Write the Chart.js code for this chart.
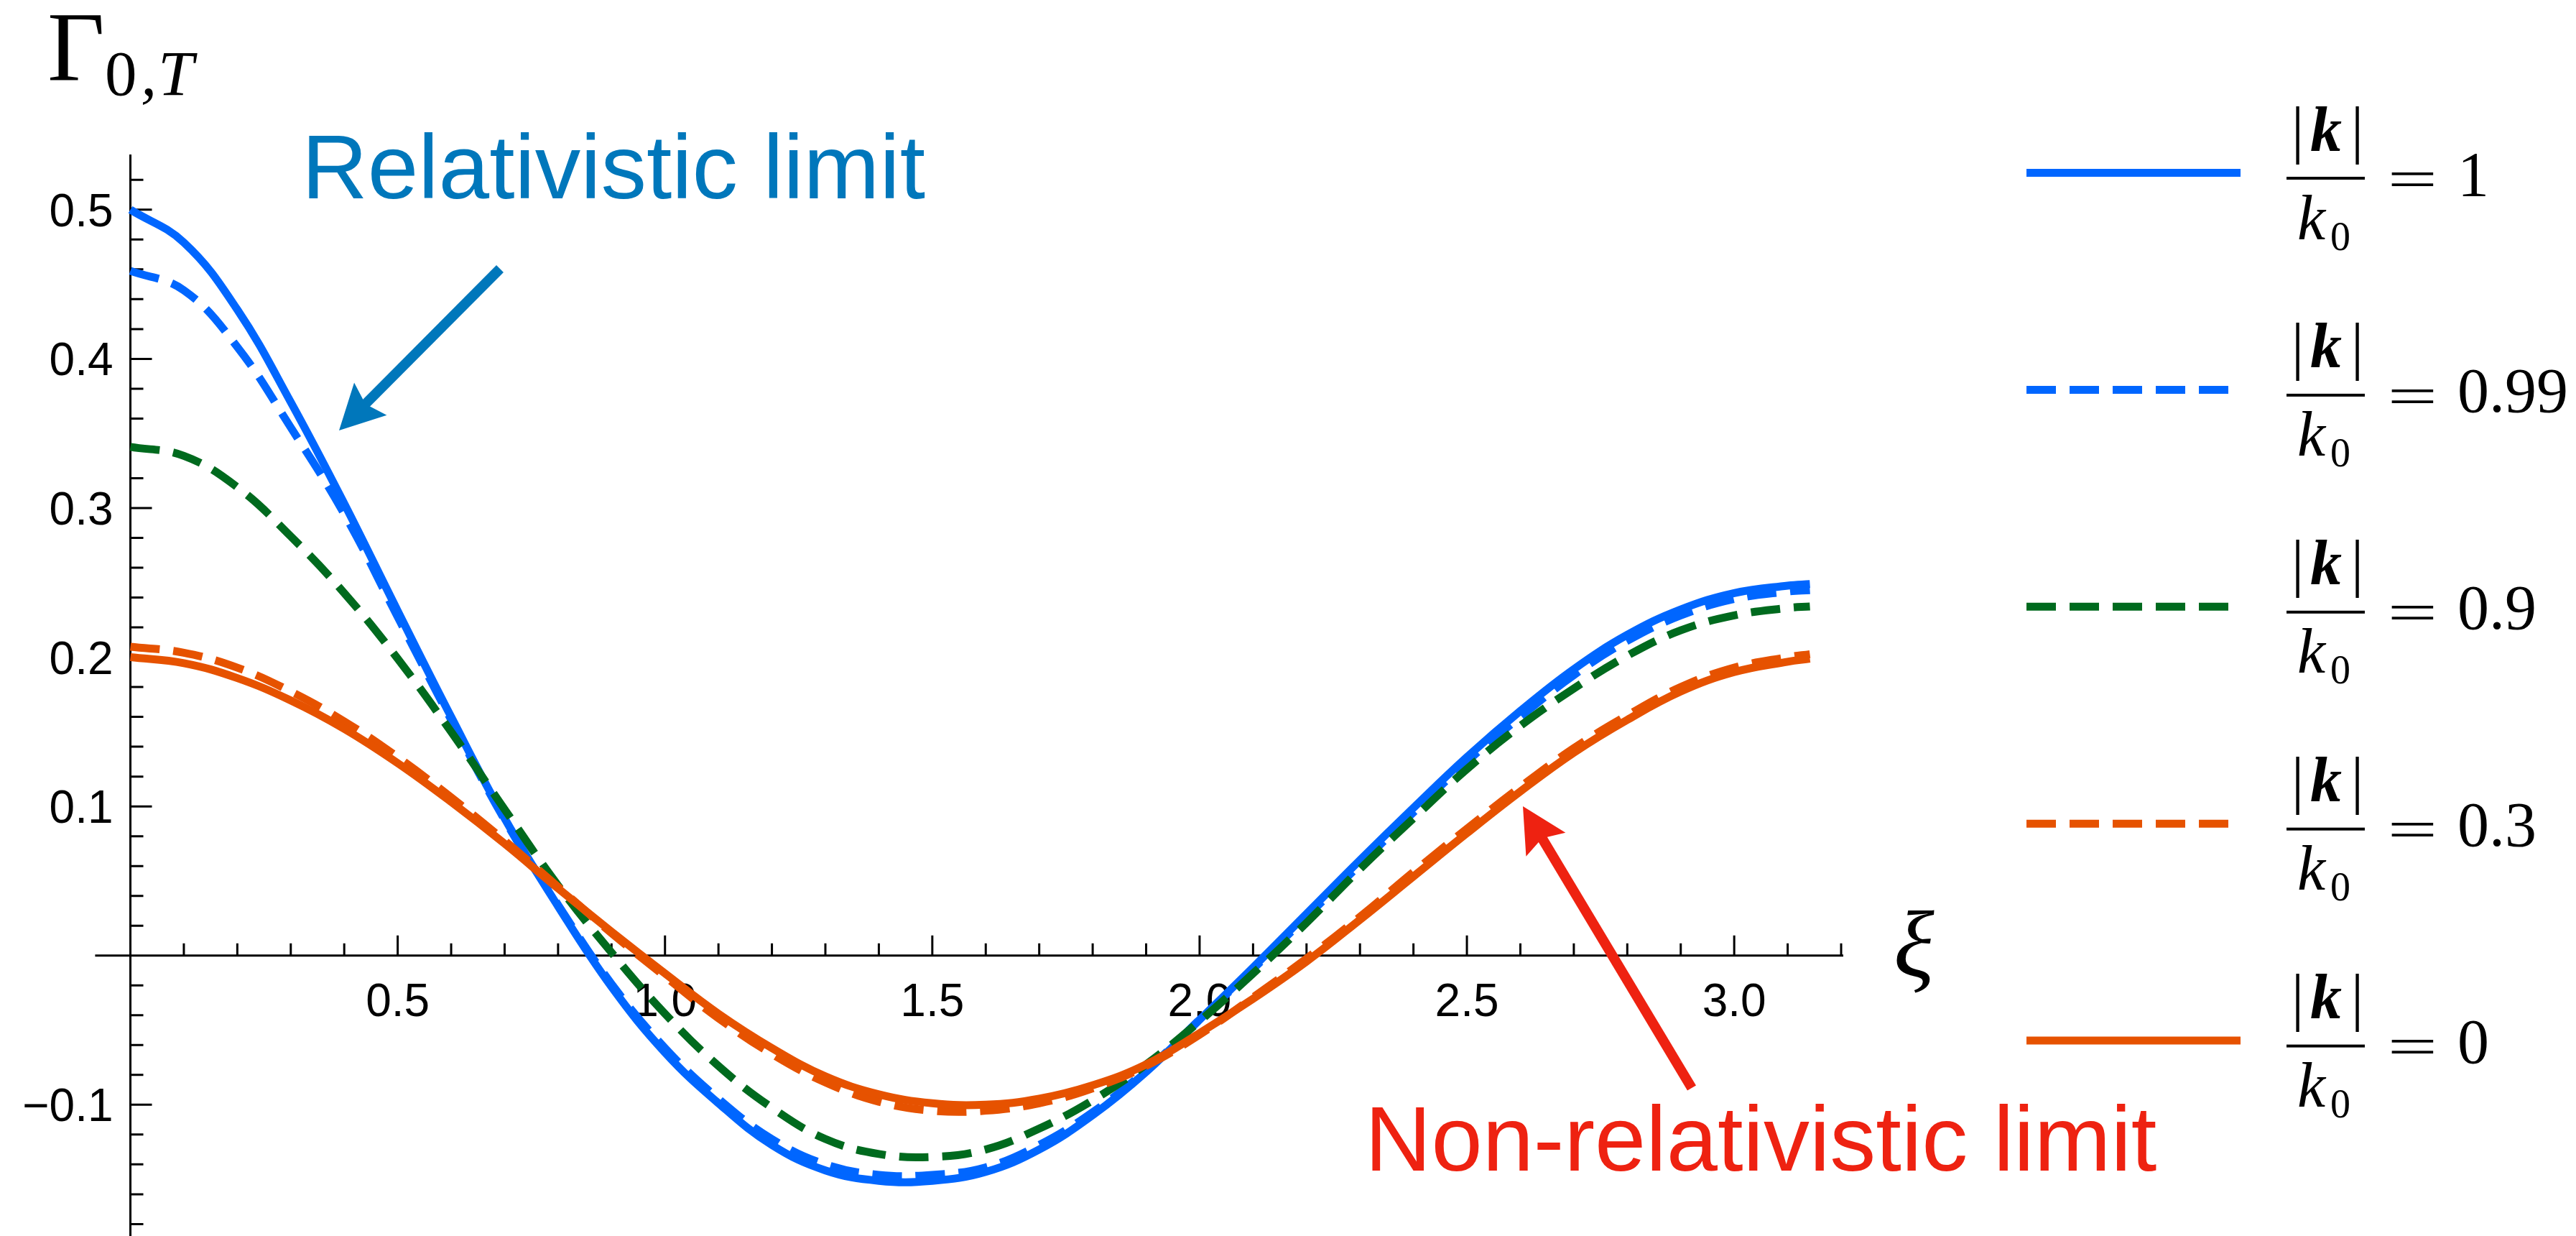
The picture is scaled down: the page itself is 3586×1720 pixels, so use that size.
<!DOCTYPE html>
<html>
<head>
<meta charset="utf-8">
<script src="https://cdn.jsdelivr.net/npm/chart.js@4.4.1/dist/chart.umd.min.js"></script>
<style>
  html, body { margin: 0; padding: 0; background: #fff; }
  #wrap { width: 3586px; height: 1720px; }
</style>
</head>
<body>
<div id="wrap"><canvas id="chart" width="3586" height="1720"></canvas></div>
<script>
const xi = [0, 0.1, 0.2, 0.3, 0.4, 0.5, 0.6, 0.7, 0.8, 0.9, 1.0, 1.1, 1.2, 1.3, 1.4, 1.5,
  1.6, 1.7, 1.8, 1.9, 2.0, 2.1, 2.2, 2.3, 2.4, 2.5, 2.6, 2.7, 2.8, 2.9, 3.0, 3.1, 3.1416];

const ratioLabels = ['1', '0.99', '0.9', '0.3', '0'];

const gammaK1 = [0.500, 0.478, 0.433, 0.371, 0.303, 0.231, 0.160, 0.092, 0.033, -0.021, -0.065,
  -0.099, -0.127, -0.144, -0.151, -0.151, -0.145, -0.130, -0.107, -0.078, -0.043, -0.008,
  0.028, 0.064, 0.099, 0.133, 0.164, 0.192, 0.215, 0.232, 0.243, 0.248, 0.249];
const gammaK099 = [0.459, 0.446, 0.408, 0.354, 0.296, 0.227, 0.158, 0.091, 0.034, -0.019, -0.062,
  -0.096, -0.123, -0.140, -0.147, -0.147, -0.142, -0.127, -0.105, -0.077, -0.043, -0.009,
  0.026, 0.061, 0.096, 0.130, 0.160, 0.188, 0.211, 0.228, 0.239, 0.244, 0.245];
const gammaK09 = [0.341, 0.335, 0.314, 0.281, 0.243, 0.199, 0.150, 0.098, 0.047, 0.002, -0.039,
  -0.074, -0.102, -0.123, -0.133, -0.135, -0.130, -0.116, -0.097, -0.073, -0.044, -0.012,
  0.022, 0.058, 0.092, 0.125, 0.154, 0.179, 0.201, 0.218, 0.228, 0.233, 0.234];
const gammaK03 = [0.207, 0.203, 0.193, 0.177, 0.157, 0.133, 0.106, 0.077, 0.046, 0.015, -0.014,
  -0.042, -0.066, -0.085, -0.098, -0.104, -0.104, -0.099, -0.089, -0.074, -0.053, -0.028,
  -0.002, 0.026, 0.056, 0.085, 0.113, 0.139, 0.161, 0.180, 0.193, 0.200, 0.202];
const gammaK0 = [0.200, 0.196, 0.186, 0.171, 0.152, 0.129, 0.103, 0.075, 0.045, 0.016, -0.012,
  -0.039, -0.062, -0.081, -0.093, -0.099, -0.100, -0.096, -0.087, -0.073, -0.052, -0.029,
  -0.004, 0.024, 0.053, 0.082, 0.110, 0.136, 0.158, 0.177, 0.190, 0.197, 0.199];

const xMajorTicks = [0.5, 1.0, 1.5, 2.0, 2.5, 3.0];
const xMinorTicks = [0.1, 0.2, 0.3, 0.4, 0.6, 0.7, 0.8, 0.9, 1.1, 1.2, 1.3, 1.4, 1.6, 1.7, 1.8, 1.9,
  2.1, 2.2, 2.3, 2.4, 2.6, 2.7, 2.8, 2.9, 3.1, 3.2];
const yMajorTicks = [-0.1, 0.1, 0.2, 0.3, 0.4, 0.5];
const yMinorTicks = [-0.18, -0.16, -0.14, -0.12, -0.08, -0.06, -0.04, -0.02, 0.02, 0.04, 0.06, 0.08,
  0.12, 0.14, 0.16, 0.18, 0.22, 0.24, 0.26, 0.28, 0.32, 0.34, 0.36, 0.38, 0.42, 0.44, 0.46, 0.48, 0.52];

const blue = '#0066ff';
const green = '#006a1e';
const orange = '#e65200';
const dash = [41, 19];

const series = [
  { values: gammaK1, color: blue, dash: [] },
  { values: gammaK099, color: blue, dash },
  { values: gammaK09, color: green, dash },
  { values: gammaK03, color: orange, dash },
  { values: gammaK0, color: orange, dash: [] },
];

const serif = '"Liberation Serif", "Times New Roman", serif';
const sans = '"Liberation Sans", Arial, sans-serif';

function drawArrow(ctx, x1, y1, x2, y2, color) {
  const ang = Math.atan2(y2 - y1, x2 - x1);
  const cos = Math.cos(ang);
  const sin = Math.sin(ang);
  const headLen = 62;
  const headHalf = 32;
  const bx = x2 - headLen * cos;
  const by = y2 - headLen * sin;
  ctx.save();
  ctx.strokeStyle = color;
  ctx.fillStyle = color;
  ctx.lineWidth = 14;
  ctx.lineCap = 'butt';
  ctx.beginPath();
  ctx.moveTo(x1, y1);
  ctx.lineTo(bx + 12 * cos, by + 12 * sin);
  ctx.stroke();
  ctx.beginPath();
  ctx.moveTo(x2, y2);
  ctx.lineTo(bx + headHalf * sin, by - headHalf * cos);
  ctx.lineTo(bx + 10 * cos, by + 10 * sin);
  ctx.lineTo(bx - headHalf * sin, by + headHalf * cos);
  ctx.closePath();
  ctx.fill();
  ctx.restore();
}

const axesPlugin = {
  id: 'mathAxes',
  beforeDatasetsDraw(chart) {
    const { ctx, scales: { x, y }, chartArea } = chart;
    const x0 = x.getPixelForValue(0);
    const y0 = y.getPixelForValue(0);
    ctx.save();
    ctx.strokeStyle = '#000';
    ctx.lineWidth = 3;
    ctx.beginPath();
    ctx.moveTo(chartArea.left, y0);
    ctx.lineTo(chartArea.right + 3, y0);
    ctx.moveTo(x0, chartArea.top);
    ctx.lineTo(x0, chartArea.bottom);
    xMajorTicks.forEach((v) => {
      const px = x.getPixelForValue(v);
      ctx.moveTo(px, y0);
      ctx.lineTo(px, y0 - 28);
    });
    xMinorTicks.forEach((v) => {
      const px = x.getPixelForValue(v);
      ctx.moveTo(px, y0);
      ctx.lineTo(px, y0 - 17);
    });
    yMajorTicks.forEach((v) => {
      const py = y.getPixelForValue(v);
      ctx.moveTo(x0, py);
      ctx.lineTo(x0 + 30, py);
    });
    yMinorTicks.forEach((v) => {
      const py = y.getPixelForValue(v);
      ctx.moveTo(x0, py);
      ctx.lineTo(x0 + 18, py);
    });
    ctx.stroke();

    ctx.fillStyle = '#000';
    ctx.font = `64px ${sans}`;
    ctx.textBaseline = 'alphabetic';
    ctx.textAlign = 'center';
    xMajorTicks.forEach((v) => {
      ctx.fillText(v.toFixed(1), x.getPixelForValue(v), y0 + 84);
    });
    ctx.textAlign = 'right';
    yMajorTicks.forEach((v) => {
      const label = v.toFixed(1).replace('-', '\u2212');
      ctx.fillText(label, x0 - 24, y.getPixelForValue(v) + 23);
    });

    ctx.textAlign = 'left';
    ctx.font = `138px ${serif}`;
    ctx.fillText('\u0393', 66, 112);
    ctx.font = `89px ${serif}`;
    ctx.fillText('0', 146, 132);
    ctx.font = `italic 89px ${serif}`;
    ctx.fillText(',', 196, 132);
    ctx.fillText('T', 220, 132);
    ctx.font = `italic 132px ${serif}`;
    ctx.fillText('\u03be', 2636, 1358);
    ctx.restore();
  },
  afterDraw(chart) {
    const { ctx } = chart;
    ctx.save();

    ctx.textBaseline = 'alphabetic';
    ctx.textAlign = 'left';
    ctx.fillStyle = '#0077bb';
    ctx.font = `127px ${sans}`;
    ctx.fillText('Relativistic limit', 420, 276);
    drawArrow(ctx, 696, 374, 472, 599, '#0077bb');

    ctx.fillStyle = '#ee2211';
    ctx.font = `128px ${sans}`;
    ctx.fillText('Non-relativistic limit', 1900, 1629);
    drawArrow(ctx, 2355, 1514, 2120, 1122, '#ee2211');

    chart.data.datasets.forEach((ds, i) => {
      const ly = 240.5 + i * 301.9;
      ctx.strokeStyle = ds.borderColor;
      ctx.lineWidth = ds.borderWidth;
      ctx.lineCap = 'butt';
      ctx.setLineDash(ds.borderDash);
      ctx.beginPath();
      ctx.moveTo(2821, ly);
      ctx.lineTo(3119, ly);
      ctx.stroke();
      ctx.setLineDash([]);

      ctx.fillStyle = '#000';
      ctx.fillRect(3183, ly + 5.5, 109, 4);
      ctx.textAlign = 'center';
      ctx.font = `88px ${serif}`;
      ctx.fillText('|', 3198.5, ly - 31);
      ctx.fillText('|', 3281.5, ly - 31);
      ctx.font = `italic bold 88px ${serif}`;
      ctx.fillText('k', 3238, ly - 31);
      ctx.textAlign = 'left';
      ctx.font = `italic 88px ${serif}`;
      ctx.fillText('k', 3198, ly + 92);
      ctx.font = `56px ${serif}`;
      ctx.fillText('0', 3244, ly + 107);

      ctx.font = `88px ${serif}`;
      const eq = ctx.measureText('=');
      const eqW = eq.actualBoundingBoxLeft + eq.actualBoundingBoxRight;
      const eqH = eq.actualBoundingBoxAscent + eq.actualBoundingBoxDescent;
      ctx.save();
      ctx.translate(3329, ly - 1.5);
      ctx.scale(59 / eqW, 20 / eqH);
      ctx.fillText('=', eq.actualBoundingBoxLeft, eq.actualBoundingBoxAscent);
      ctx.restore();

      ctx.fillText(ratioLabels[i], 3421, ly + 31);
    });
    ctx.restore();
  },
};

const ctx = document.getElementById('chart').getContext('2d');

new Chart(ctx, {
  type: 'line',
  data: {
    datasets: series.map((s, i) => ({
      label: ratioLabels[i],
      data: xi.map((x, j) => ({ x, y: s.values[j] })),
      borderColor: s.color,
      borderWidth: 11,
      borderDash: s.dash,
      borderCapStyle: 'butt',
      borderJoinStyle: 'round',
      fill: false,
      tension: 0.4,
      pointRadius: 0,
      order: series.length - 1 - i,
    })),
  },
  options: {
    responsive: false,
    animation: false,
    devicePixelRatio: 1,
    layout: { padding: { left: 132.4, right: 1023, top: 215, bottom: 0 } },
    plugins: {
      legend: { display: false },
      tooltip: { enabled: false },
    },
    scales: {
      x: { type: 'linear', min: -0.066, max: 3.2, bounds: 'data', display: false },
      y: { type: 'linear', min: -0.188, max: 0.537, bounds: 'data', display: false },
    },
  },
  plugins: [axesPlugin],
});
</script>
</body>
</html>
